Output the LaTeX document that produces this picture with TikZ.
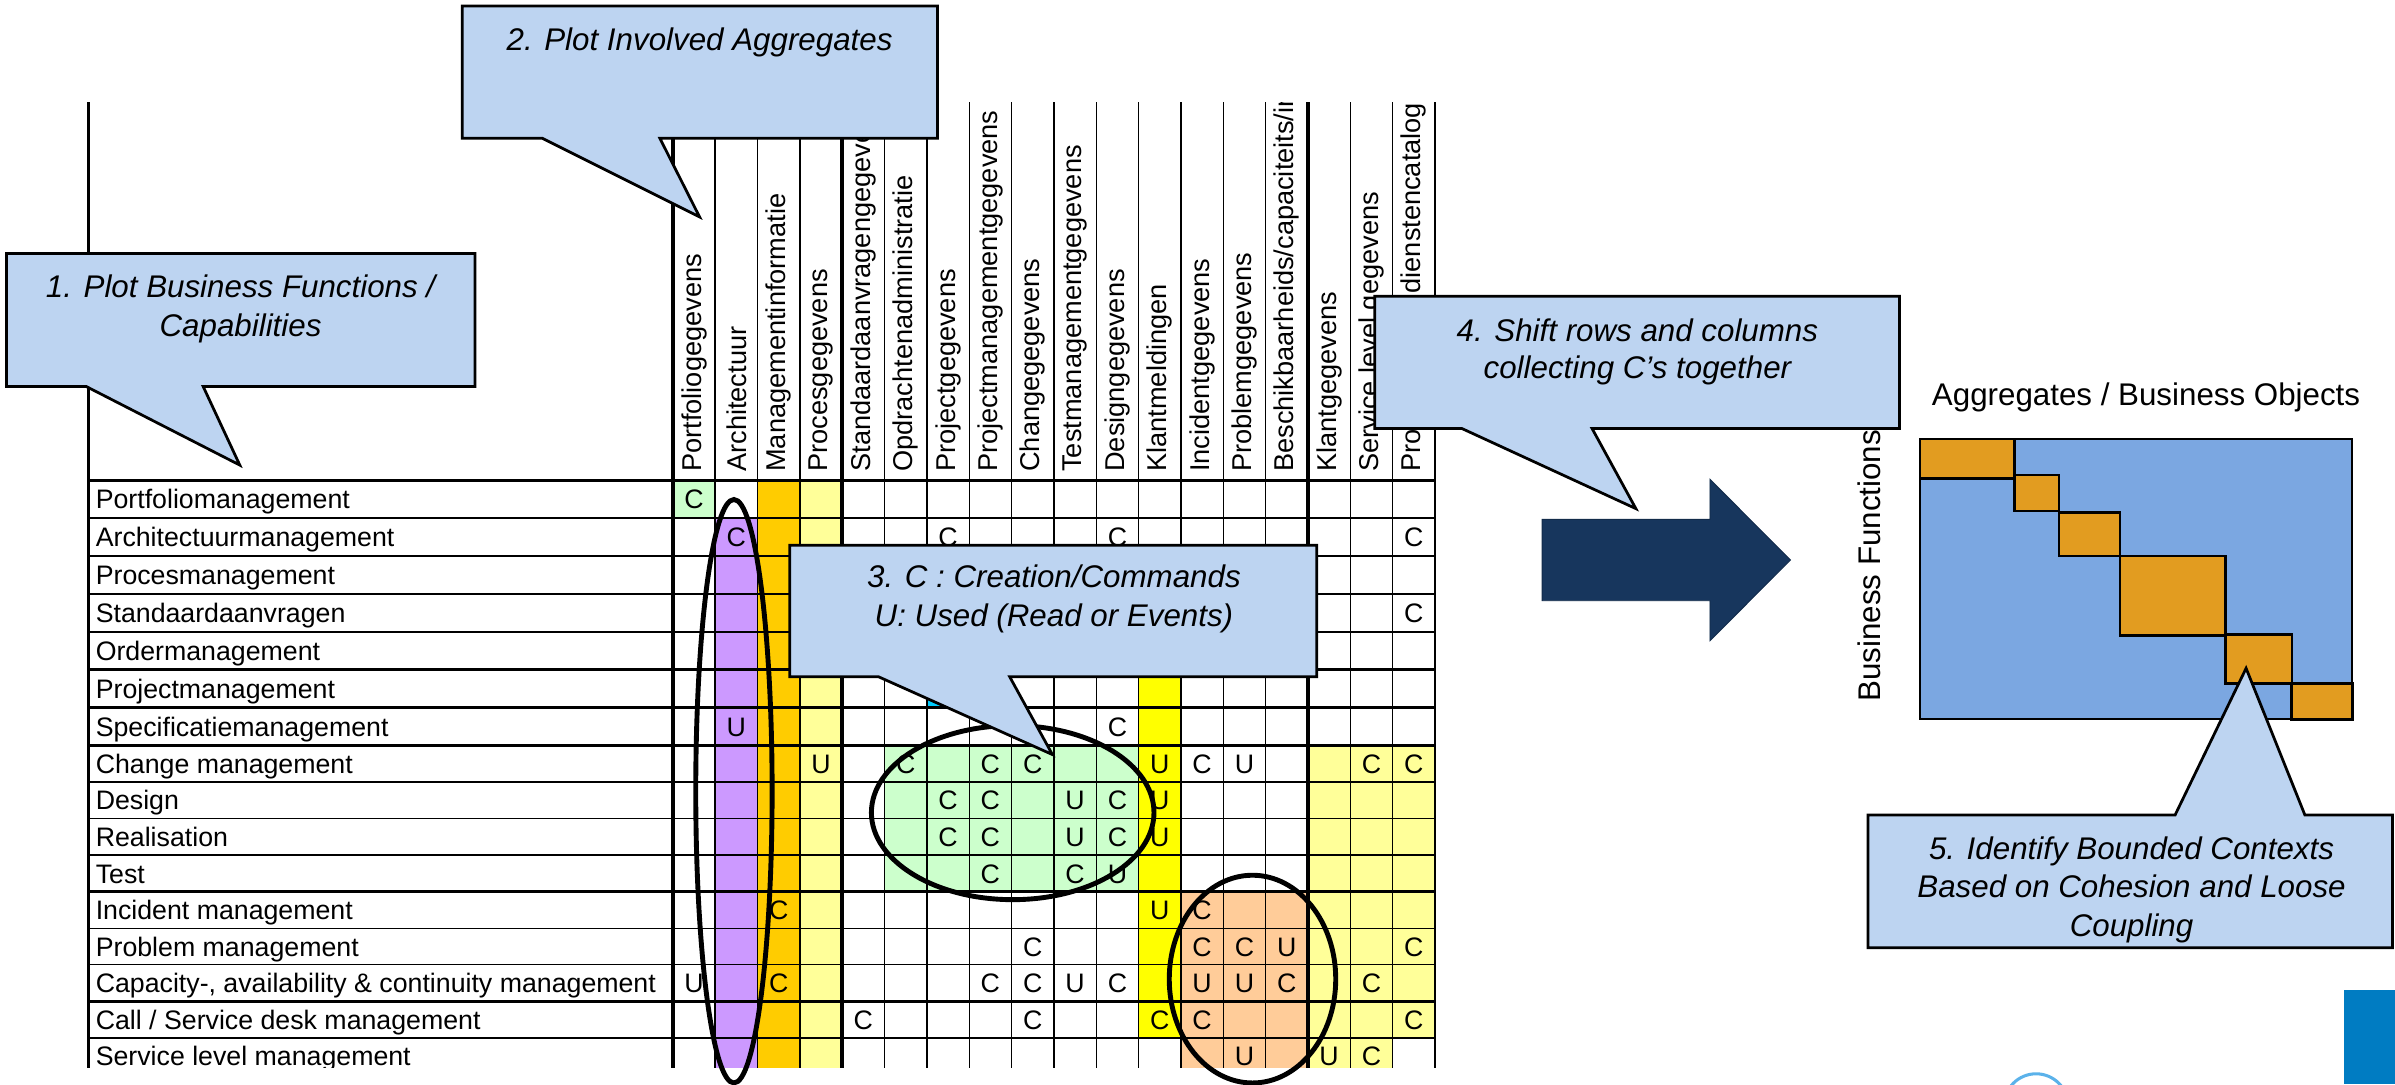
\documentclass[tikz,border=0pt]{standalone}
\usepackage{fontspec}
\setmainfont{Liberation Sans}
\usetikzlibrary{calc}

\definecolor{cellgreen}{HTML}{CCFFCC}
\definecolor{cellpurple}{HTML}{CC99FF}
\definecolor{cellorange}{HTML}{FFCC00}
\definecolor{cellyellow}{HTML}{FFFF99}
\definecolor{cellbright}{HTML}{FFFF00}
\definecolor{cellpeach}{HTML}{FFCC99}
\definecolor{cellcyan}{HTML}{00CCFF}
\definecolor{calloutblue}{HTML}{BDD4F1}
\definecolor{blockblue}{HTML}{7BA7E1}
\definecolor{blockorange}{HTML}{E29C20}
\definecolor{arrownavy}{HTML}{17365D}
\definecolor{cornerblue}{HTML}{007CC2}
\definecolor{ringblue}{HTML}{5BB2EA}

% fill a block of cells between column edges #2..#3 and row edges #4..#5
\newcommand\cellfill[5]{\fill[#1] (C#2 |- R#4) rectangle (C#3 |- R#5);}
% business function label in row #1
\newcommand\rowlabel[2]{\node[rowlabel] (f#1) at ($(L0 |- M#1)+(4.5,6.3)$) {#2};}
% rotated aggregate label in column #1
\newcommand\headlabel[2]{\node[colhead] (h#1) at ($(N#1)+(0,309)$) {#2};}

\begin{document}
\begin{tikzpicture}[x=1pt,y=-1pt,
  gridthin/.style={line width=0.9pt},
  gridmid/.style={line width=1.6pt},
  gridthick/.style={line width=2.3pt},
  rowlabel/.style={anchor=base west,inner sep=0pt,font=\fontsize{17.5}{20}\selectfont},
  cellmark/.style={anchor=base,inner sep=0pt,font=\fontsize{17.5}{20}\selectfont},
  colhead/.style={rotate=90,anchor=west,inner sep=0pt,font=\fontsize{17.8}{20}\selectfont},
  calloutbox/.style={fill=calloutblue,draw=black,line width=1.8pt,line join=miter},
  callouttext/.style={anchor=base,inner sep=0pt,font=\fontsize{20.5}{25}\selectfont\itshape},
  plaintext/.style={inner sep=0pt,font=\fontsize{20.5}{25}\selectfont},
  ring/.style={draw=black,line width=3.2pt},
  blockcell/.style={fill=blockorange,draw=black,line width=1.8pt},
]
\useasboundingbox (0,0) rectangle (1568,710);

% ---- grid geometry: column edges C, column centres N, row edges R, row centres M
\coordinate (L0) at (58,0);
\foreach \k in {0,...,18} { \coordinate (C\k) at ({440.5+27.72*\k},0); }
\foreach \k in {1,...,18} { \coordinate (N\k) at ({440.5+27.72*(\k-0.5)},0); }
\foreach \i in {0,...,16} {
  \pgfmathsetmacro\yy{\i<8 ? 314.5+24.79*\i : 488+23.94*(\i-7)}
  \coordinate (R\i) at (0,\yy);
}
\foreach \i in {1,...,16} {
  \pgfmathsetmacro\yc{\i<8 ? 314.5+24.79*(\i-0.5) : 488+23.94*(\i-7.5)}
  \coordinate (M\i) at (0,\yc);
}

% ---- CRUD matrix body
\begin{scope}
  \clip (0,0) rectangle (1568,699);
  \cellfill{cellgreen}{0}{1}{0}{1}
  \cellfill{cellpurple}{1}{2}{1}{16}
  \cellfill{cellorange}{2}{3}{0}{16}
  \cellfill{cellyellow}{3}{4}{0}{16}
  \cellfill{cellcyan}{6}{7}{5}{6}
  \cellfill{cellgreen}{5}{11}{7}{11}
  \cellfill{cellbright}{11}{12}{5}{15}
  \cellfill{cellpeach}{12}{15}{11}{16}
  \cellfill{cellyellow}{15}{18}{7}{15}
  \cellfill{cellyellow}{15}{17}{15}{16}

  % horizontal rules
  \foreach \i/\s in {0/gridthick,1/gridmid,2/gridmid,3/gridmid,4/gridmid,5/gridmid,6/gridmid,
                     7/gridmid,8/gridthin,9/gridthin,10/gridthin,11/gridthick,12/gridthin,
                     13/gridthin,14/gridthick,15/gridthin}
    \draw[\s] (L0 |- R\i) -- (C18 |- R\i);
  % vertical rules
  \draw[gridmid] ($(L0)+(0,67)$) -- ($(L0)+(0,699)$);
  \foreach \k/\s in {0/gridthick,1/gridthin,2/gridthin,3/gridthin,4/gridthick,5/gridthin,
                     6/gridthin,7/gridthin,8/gridthin,9/gridthin,10/gridthin,11/gridthin,
                     12/gridthin,13/gridthin,14/gridthin,15/gridthick,16/gridthin,
                     17/gridthin,18/gridmid}
    \draw[\s] ($(C\k)+(0,67)$) -- ($(C\k)+(0,699)$);

  % C / U marks
  \foreach \c/\r/\t in {1/1/C,
      2/2/C,7/2/C,11/2/C,18/2/C,
      18/4/C,
      2/7/U,11/7/C,
      4/8/U,6/8/C,8/8/C,9/8/C,12/8/U,13/8/C,14/8/U,17/8/C,18/8/C,
      7/9/C,8/9/C,10/9/U,11/9/C,12/9/U,
      7/10/C,8/10/C,10/10/U,11/10/C,12/10/U,
      8/11/C,10/11/C,11/11/U,
      3/12/C,12/12/U,13/12/C,
      9/13/C,13/13/C,14/13/C,15/13/U,18/13/C,
      1/14/U,3/14/C,8/14/C,9/14/C,10/14/U,11/14/C,13/14/U,14/14/U,15/14/C,17/14/C,
      5/15/C,9/15/C,12/15/C,13/15/C,18/15/C,
      14/16/U,16/16/U,17/16/C}
    \node[cellmark] (u\c-\r) at ($(N\c |- M\r)+(0,6.3)$) {\t};

  % business functions
  \rowlabel{1}{Portfoliomanagement}
  \rowlabel{2}{Architectuurmanagement}
  \rowlabel{3}{Procesmanagement}
  \rowlabel{4}{Standaardaanvragen}
  \rowlabel{5}{Ordermanagement}
  \rowlabel{6}{Projectmanagement}
  \rowlabel{7}{Specificatiemanagement}
  \rowlabel{8}{Change management}
  \rowlabel{9}{Design}
  \rowlabel{10}{Realisation}
  \rowlabel{11}{Test}
  \rowlabel{12}{Incident management}
  \rowlabel{13}{Problem management}
  \rowlabel{14}{Capacity-, availability \& continuity management}
  \rowlabel{15}{Call / Service desk management}
  \rowlabel{16}{Service level management}
\end{scope}

% ---- aggregate headers, cut off at the top of the header band
\begin{scope}
  \clip (0,67) rectangle (1568,314);
  \headlabel{1}{Portfoliogegevens}
  \headlabel{2}{Architectuur}
  \headlabel{3}{Managementinformatie}
  \headlabel{4}{Procesgegevens}
  \headlabel{5}{Standaardaanvragengegevens}
  \headlabel{6}{Opdrachtenadministratie}
  \headlabel{7}{Projectgegevens}
  \headlabel{8}{Projectmanagementgegevens}
  \headlabel{9}{Changegegevens}
  \headlabel{10}{Testmanagementgegevens}
  \headlabel{11}{Designgegevens}
  \headlabel{12}{Klantmeldingen}
  \headlabel{13}{Incidentgegevens}
  \headlabel{14}{Problemgegevens}
  \headlabel{15}{Beschikbaarheids/capaciteits/informatie}
  \headlabel{16}{Klantgegevens}
  \headlabel{17}{Service level gegevens}
  \headlabel{18}{Producten- en dienstencatalogus}
\end{scope}

% ---- groupings
\draw[ring] (480.5,518) ellipse [x radius=25pt, y radius=191pt];
\draw[ring] (663,532) ellipse [x radius=92.5pt, y radius=57pt];
\draw[ring] (820,641) ellipse [x radius=54.5pt, y radius=68pt];

% ---- clustered matrix on the right
\node[plaintext,anchor=base] (agg) at (1405,265.4) {Aggregates / Business Objects};
\node[plaintext,rotate=90,anchor=base west] (bf) at (1231,459.4) {Business Functions};
\draw[fill=blockblue,line width=1.3pt] (1257,287.4) rectangle (1540,471);
\draw[blockcell] (1257,287.4) rectangle (1319,313.5);
\draw[blockcell] (1319,311) rectangle (1348,334.5);
\draw[blockcell] (1348,335.4) rectangle (1388,364);
\draw[blockcell] (1388,364) rectangle (1457,416);
\draw[blockcell] (1457,415.5) rectangle (1500.5,447.6);
\draw[blockcell] (1500,447.6) rectangle (1540,471);

% ---- block arrow
\draw[fill=arrownavy,draw=arrownavy!80!black,line width=0.6pt,line join=miter]
  (1009.6,340) -- (1119.5,340) -- (1119.5,313.8) -- (1172.2,366.6)
  -- (1119.5,419.5) -- (1119.5,393.3) -- (1009.6,393.3) -- cycle;

% ---- callouts
\draw[calloutbox] (4.2,166) -- (311,166) -- (311,253) -- (133,253) -- (157,304.5)
  -- (56.4,253) -- (4.2,253) -- cycle;
\node[callouttext] (t1a) at (157.5,195) {1. Plot Business Functions /};
\node[callouttext] (t1b) at (157.5,220.1) {Capabilities};

\draw[calloutbox] (302.6,4) -- (613.7,4) -- (613.7,90.5) -- (432,90.5) -- (458,142)
  -- (355,90.5) -- (302.6,90.5) -- cycle;
\node[callouttext] (t2a) at (458,32.8) {2. Plot Involved Aggregates};

\draw[calloutbox] (517,357) -- (862,357) -- (862,443) -- (661,443) -- (689,494)
  -- (575,443) -- (517,443) -- cycle;
\node[callouttext] (t3a) at (690,384.8) {3. C : Creation/Commands};
\node[callouttext] (t3b) at (690,409.9) {U: Used (Read or Events)};

\draw[calloutbox] (900,194) -- (1243.5,194) -- (1243.5,280.5) -- (1042.3,280.5) -- (1071,333)
  -- (957,280.5) -- (900,280.5) -- cycle;
\node[callouttext] (t4a) at (1072,223.3) {4. Shift rows and columns};
\node[callouttext] (t4b) at (1072,247.8) {collecting C’s together};

\draw[calloutbox] (1223,533.6) -- (1424,533.6) -- (1470.5,437.5) -- (1509,533.6)
  -- (1566.4,533.6) -- (1566.4,620.5) -- (1223,620.5) -- cycle;
\node[callouttext] (t5a) at (1395.5,562.6) {5. Identify Bounded Contexts};
\node[callouttext] (t5b) at (1395.5,587.9) {Based on Cohesion and Loose};
\node[callouttext] (t5c) at (1395.5,612.9) {Coupling};

% ---- page furniture at the lower right edge
\fill[cornerblue] (1534.4,648) rectangle (1568,710);
\draw[ringblue,line width=2pt] (1333,724) circle [radius=21pt];
\end{tikzpicture}
\end{document}
